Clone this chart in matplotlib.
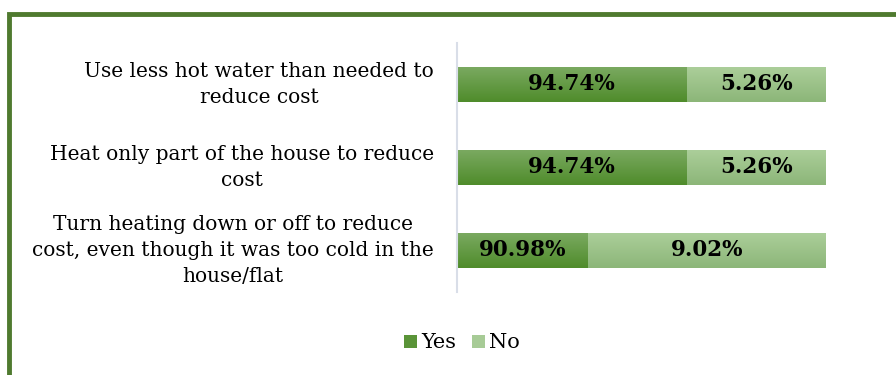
import numpy as np
import matplotlib
matplotlib.use("Agg")
import matplotlib.pyplot as plt
from matplotlib.colors import LinearSegmentedColormap
from matplotlib.patches import Rectangle, Patch

categories = [
    "Use less hot water than needed to\nreduce cost",
    "Heat only part of the house to reduce\ncost",
    "Turn heating down or off to reduce\ncost, even though it was too cold in the\nhouse/flat",
]
yes_values = [94.74, 94.74, 90.98]
no_values = [5.26, 5.26, 9.02]
series_names = ["Yes", "No"]
axis_min = 86

SERIF = ["DejaVu Serif", "Liberation Serif"]

W, H = 896, 375
fig = plt.figure(figsize=(W / 100, H / 100), dpi=100)
fig.patch.set_facecolor("white")

# green frame around the chart area
fig.patches.append(Rectangle((9 / W, -0.1), 1.2, 1 - 14 / H + 0.1,
                             transform=fig.transFigure, fill=False,
                             edgecolor="#4f7a2f", linewidth=3.5))

ax = fig.add_axes([457 / W, 1 - 292 / H, (826 - 457) / W, (292 - 43) / H])
y = np.arange(len(categories))
bar_h = 0.42

yes_bars = ax.barh(y, [v - axis_min for v in yes_values], left=axis_min,
                   height=bar_h, color="#62993d", edgecolor="none")
no_bars = ax.barh(y, no_values, left=yes_values, height=bar_h,
                  color="#9dc48a", edgecolor="none")

cmap_yes = LinearSegmentedColormap.from_list("yes", ["#7aa960", "#4f8c2b"])
cmap_no = LinearSegmentedColormap.from_list("no", ["#abce9a", "#8cb678"])
grad = np.linspace(0, 1, 64).reshape(-1, 1)
for bars, cmap in ((yes_bars, cmap_yes), (no_bars, cmap_no)):
    for p in bars:
        x0, y0 = p.get_x(), p.get_y()
        im = ax.imshow(grad, cmap=cmap, aspect="auto",
                       extent=[x0, x0 + p.get_width(), y0 + p.get_height(), y0],
                       interpolation="bilinear", zorder=2)
        im.set_clip_path(p)

label_font = dict(family=SERIF, fontsize=15.5, fontweight="bold", color="black")
for i in range(len(categories)):
    ax.text((axis_min + yes_values[i]) / 2, y[i], f"{yes_values[i]:.2f}%",
            ha="center", va="center", zorder=3, **label_font)
    ax.text(yes_values[i] + no_values[i] / 2, y[i], f"{no_values[i]:.2f}%",
            ha="center", va="center", zorder=3, **label_font)

ax.set_xlim(axis_min, 100)
ax.set_ylim(len(categories) - 0.5, -0.5)
ax.set_yticks(y)
ax.set_yticklabels(categories, family=SERIF, fontsize=14.5, ha="right",
                   va="center", multialignment="center", linespacing=1.45)
ax.tick_params(axis="y", length=0, pad=16.5)
ax.set_xticks([])
for s in ("top", "right", "bottom"):
    ax.spines[s].set_visible(False)
ax.spines["left"].set_color("#d9dee8")
ax.spines["left"].set_linewidth(1.5)

handles = [Patch(facecolor="#5a9438", edgecolor="none"),
           Patch(facecolor="#a7cb96", edgecolor="none")]
fig.legend(handles, series_names, loc="center", bbox_to_anchor=(462 / W, 1 - 343 / H),
           ncol=2, frameon=False, handlelength=0.6, handleheight=0.6,
           handletextpad=0.2, columnspacing=0.8,
           prop=dict(family=SERIF, size=15))

fig.savefig("out.png", dpi=100)
